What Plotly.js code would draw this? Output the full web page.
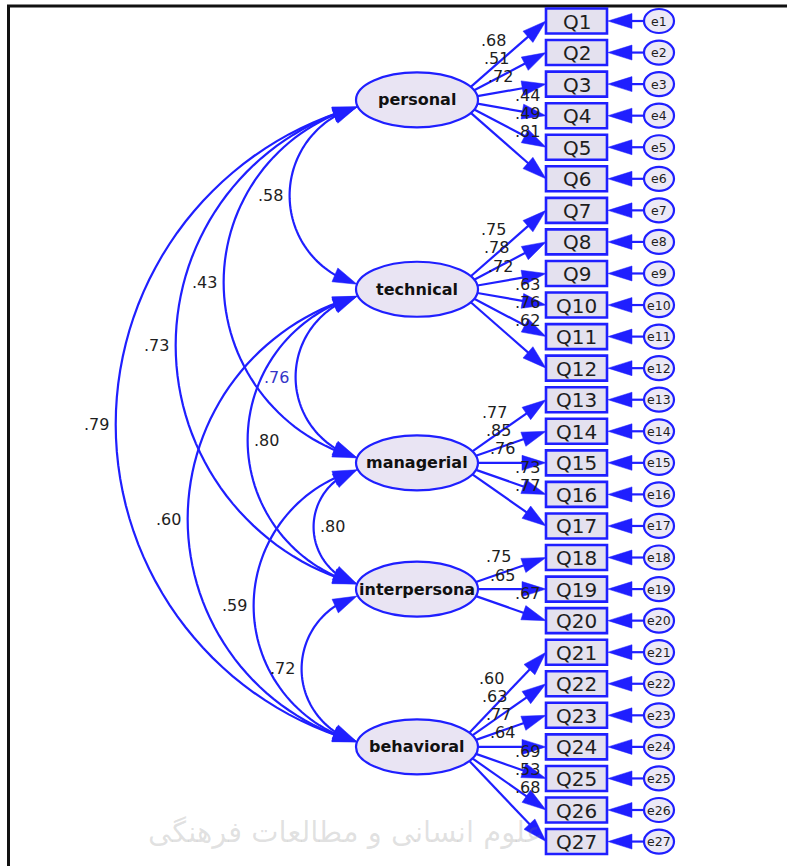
<!DOCTYPE html>
<html><head><meta charset="utf-8">
<script src="https://cdn.plot.ly/plotly-3.0.1.min.js"></script>
<style>html,body{margin:0;padding:0;background:#fff}#chart{width:787px;height:866px}</style>
</head><body><div id="chart"></div>
<script>
// ---------------- data ----------------
const factorNames = ["personal","technical","managerial","interpersona","behavioral"];
const itemCounts = [6, 6, 5, 3, 7];
const itemLabels = ["Q1","Q2","Q3","Q4","Q5","Q6","Q7","Q8","Q9","Q10","Q11","Q12","Q13","Q14",
  "Q15","Q16","Q17","Q18","Q19","Q20","Q21","Q22","Q23","Q24","Q25","Q26","Q27"];
const errorLabels = ["e1","e2","e3","e4","e5","e6","e7","e8","e9","e10","e11","e12","e13","e14",
  "e15","e16","e17","e18","e19","e20","e21","e22","e23","e24","e25","e26","e27"];
const loadings = [0.68,0.51,0.72,0.44,0.49,0.81, 0.75,0.78,0.72,0.63,0.76,0.62,
  0.77,0.85,0.76,0.73,0.77, 0.75,0.65,0.67, 0.60,0.63,0.77,0.64,0.69,0.53,0.68];
const corrFrom = [0,0,0,0,1,1,1,2,2,3];
const corrTo   = [1,2,3,4,2,3,4,3,4,4];
const corrValues = [0.58,0.43,0.73,0.79,0.76,0.80,0.60,0.80,0.59,0.72];
const watermarkText = "علوم انسانی و مطالعات فرهنگی";

// ---------------- layout geometry ----------------
const W = 787, H = 866;
const BLUE = "#1f1fff";
const TXT = "#1e1e1e";
const FONT = "DejaVu Sans";
const itemY0 = 21, itemDy = 31.56;
const boxX0 = 546, boxX1 = 607, boxH = 25;
const errCx = 659, errRx = 15, errRy = 12;
const facCx = 417, facRx = 61, facRy = 27.5;
const AH_L = 24, AH_W = 7.5;
const LW = 2.2;
const arcRatio = 0.38;
const corrLabelSide = [-1,-1,-1,-1,-1,1,-1,1,-1,-1];
const fmt = v => v.toFixed(2).replace(/^0/, "");

const shapes = [], ann = [];
const itemY = itemLabels.map((_, k) => itemY0 + itemDy * k);

// factor centers
const facY = []; const facStart = [];
let acc = 0;
itemCounts.forEach(n => { facStart.push(acc); let s = 0; for (let k = acc; k < acc + n; k++) s += itemY[k]; facY.push(s / n); acc += n; });

function arrowHead(tip, from) {
  const dx = tip[0] - from[0], dy = tip[1] - from[1], L = Math.hypot(dx, dy);
  const u = [dx / L, dy / L], p = [-u[1], u[0]];
  const b = [tip[0] - u[0] * AH_L, tip[1] - u[1] * AH_L];
  shapes.push({type: "path", xref: "x", yref: "y", line: {width: 0.5, color: BLUE}, fillcolor: BLUE,
    path: `M${tip[0]},${tip[1]} L${b[0] + p[0] * AH_W},${b[1] + p[1] * AH_W} L${b[0] - p[0] * AH_W},${b[1] - p[1] * AH_W} Z`});
  return b;
}
function line(a, b) {
  shapes.push({type: "line", xref: "x", yref: "y", x0: a[0], y0: a[1], x1: b[0], y1: b[1], line: {color: BLUE, width: LW}});
}
function text(x, y, t, size, color, extra) {
  ann.push(Object.assign({x, y, xref: "x", yref: "y", text: t, showarrow: false, xanchor: "center", yanchor: "middle",
    font: {family: FONT, size, color}}, extra || {}));
}

// frame
shapes.push({type: "line", xref: "x", yref: "y", x0: 7, y0: 6, x1: W, y1: 6, line: {color: "#111", width: 3}});
shapes.push({type: "line", xref: "x", yref: "y", x0: 8.5, y0: 5, x1: 8.5, y1: H, line: {color: "#111", width: 3}});

// watermark text
text(345, 832, watermarkText, 29, "rgba(120,120,120,0.22)");

// correlation arcs
corrValues.forEach((v, k) => {
  const i = corrFrom[k], j = corrTo[k];
  const P1 = [facCx - facRx + 1, facY[i] + 7], P2 = [facCx - facRx + 1, facY[j] - 5];
  const dx = P2[0] - P1[0], dy = P2[1] - P1[1], c = Math.hypot(dx, dy);
  const u = [dx / c, dy / c], n = [-u[1], u[0]];
  const s = arcRatio * c, R = (c * c / 4 + s * s) / (2 * s);
  const M = [(P1[0] + P2[0]) / 2, (P1[1] + P2[1]) / 2];
  const C = [M[0] + (s - R) * n[0], M[1] + (s - R) * n[1]];
  const th = Math.asin(Math.min(1, c / (2 * R)));
  const pt = ph => [C[0] + R * (Math.cos(ph) * n[0] + Math.sin(ph) * u[0]), C[1] + R * (Math.cos(ph) * n[1] + Math.sin(ph) * u[1])];
  const dA = AH_L / R;
  const N = 60; let d = "";
  for (let q = 0; q <= N; q++) {
    const ph = -th + dA * 0.8 + (2 * th - 1.6 * dA) * q / N;
    const p = pt(ph); d += (q ? " L" : "M") + p[0].toFixed(2) + "," + p[1].toFixed(2);
  }
  shapes.push({type: "path", xref: "x", yref: "y", path: d, line: {color: BLUE, width: LW}});
  arrowHead(P1, pt(-th + dA));
  arrowHead(P2, pt(th - dA));
  const apex = [M[0] + s * n[0], M[1] + s * n[1]];
  const side = corrLabelSide[k];
  text(apex[0] + side * 19, apex[1], fmt(v), 16, k === 4 ? "#3535c8" : TXT);
});

// loadings
factorNames.forEach((f, fi) => {
  const cy = facY[fi], n = itemCounts[fi];
  const O = [facCx + 39, cy];
  for (let q = 0; q < n; q++) {
    const k = facStart[fi] + q;
    const T = [boxX0, itemY[k]];
    let dx = T[0] - O[0], dy = T[1] - O[1]; const L = Math.hypot(dx, dy); dx /= L; dy /= L;
    const a = (dx / facRx) ** 2 + (dy / facRy) ** 2, b = 2 * 39 * dx / (facRx * facRx), c0 = (39 / facRx) ** 2 - 1;
    const t = (-b + Math.sqrt(b * b - 4 * a * c0)) / (2 * a);
    const S = [O[0] + t * dx, O[1] + t * dy];
    const base = arrowHead(T, S);
    line(S, [base[0] + dx * 3, base[1] + dy * 3]);
    const off = -14 + 18.2 * (q - (n - 1) / 2);
    const lx = off < -10 ? facCx + 88 + 0.2 * off : facCx + 110;
    text(lx, cy + off, fmt(loadings[k]), 16, TXT);
  }
});

// error arrows
itemY.forEach((y, k) => {
  const base = arrowHead([boxX1 + 1, y], [errCx - errRx, y]);
  line([errCx - errRx, y], [base[0] - 3, y]);
});

// factor ellipses
factorNames.forEach((f, fi) => {
  shapes.push({type: "circle", xref: "x", yref: "y", x0: facCx - facRx, x1: facCx + facRx, y0: facY[fi] - facRy, y1: facY[fi] + facRy,
    fillcolor: "#e9e4f3", line: {color: BLUE, width: LW}});
  text(facCx, facY[fi], "<b>" + f + "</b>", 16, "#111");
});

// item boxes and error circles
itemLabels.forEach((q, k) => {
  const y = itemY[k];
  shapes.push({type: "rect", xref: "x", yref: "y", x0: boxX0, x1: boxX1, y0: y - boxH / 2, y1: y + boxH / 2,
    fillcolor: "#e4e1ef", line: {color: BLUE, width: 2.6}});
  text((boxX0 + boxX1) / 2, y + 0.5, q, 20, TXT);
  shapes.push({type: "circle", xref: "x", yref: "y", x0: errCx - errRx, x1: errCx + errRx, y0: y - errRy, y1: y + errRy,
    fillcolor: "#ece9f6", line: {color: BLUE, width: LW}});
  text(errCx, y, errorLabels[k], 12.5, TXT);
});

const layout = {
  width: W, height: H, margin: {l: 0, r: 0, t: 0, b: 0}, paper_bgcolor: "#fff", plot_bgcolor: "#fff",
  showlegend: false,
  xaxis: {range: [0, W], visible: false, fixedrange: true},
  yaxis: {range: [H, 0], visible: false, fixedrange: true},
  shapes, annotations: ann
};
Plotly.newPlot("chart", [{x: [0], y: [0], mode: "markers", marker: {opacity: 0}, hoverinfo: "skip"}], layout, {staticPlot: true, displayModeBar: false});
</script></body></html>
